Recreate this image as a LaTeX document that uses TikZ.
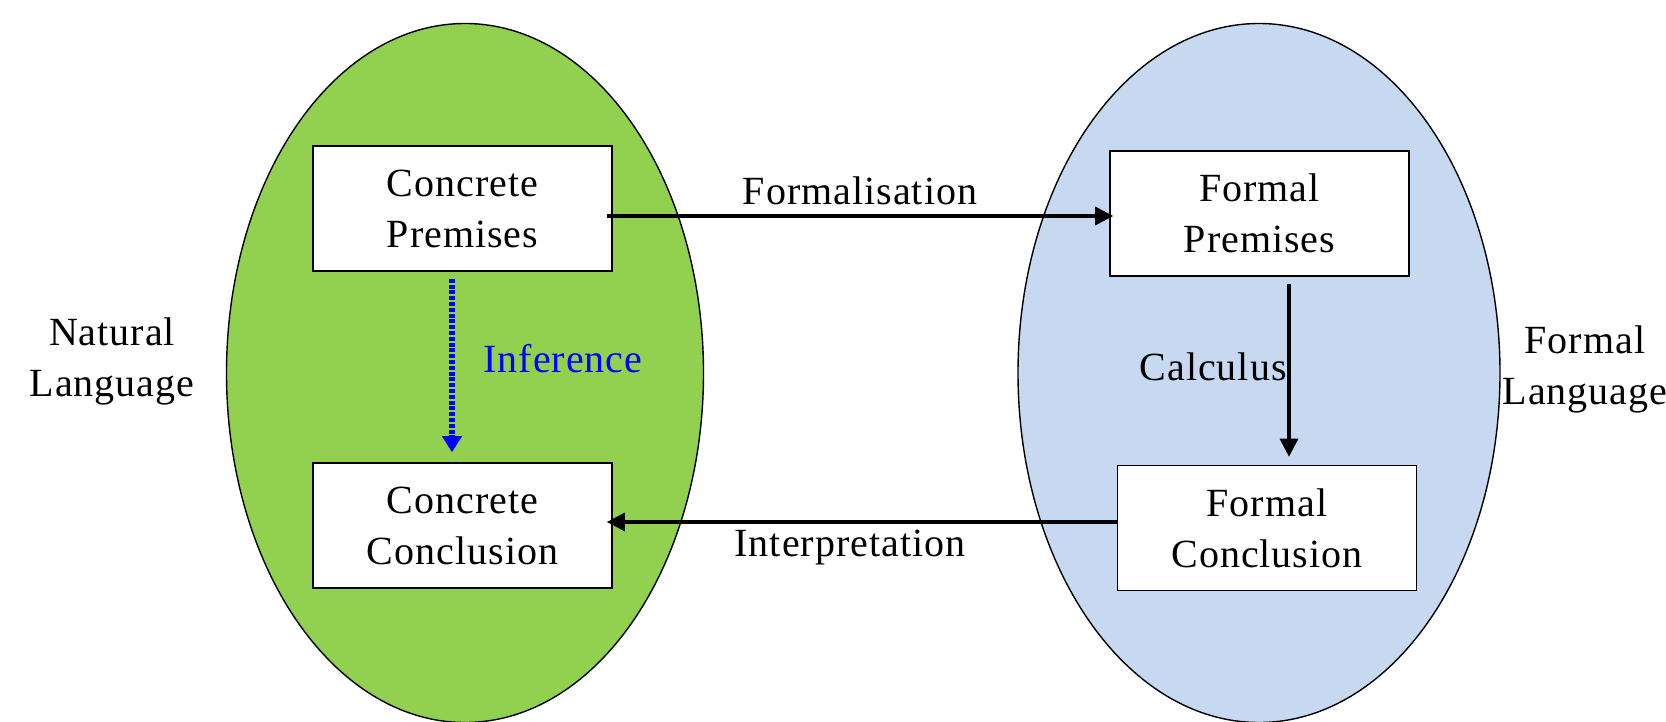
\documentclass[tikz,border=0pt]{standalone}
\usepackage{fontspec}
\setmainfont{Liberation Serif}[LetterSpace=2.5]
\usetikzlibrary{arrows.meta,shapes.geometric}
\definecolor{natgreen}{RGB}{146,208,80}
\definecolor{formblue}{RGB}{198,217,241}
\definecolor{infblue}{RGB}{0,0,255}
\tikzset{
  txt/.style={font=\fontsize{20}{25.5}\selectfont, align=center, inner sep=0pt},
  box/.style={txt, draw=black, fill=white, line width=0.8pt, minimum width=149.5pt, minimum height=62.5pt},
  blob/.style={draw=black, line width=0.7pt},
  conn/.style={line width=1.6pt, -{Triangle[length=9pt,width=9pt]}},
  infconn/.style={infblue, line width=2.7pt, dash pattern=on 2pt off 0.9pt, -{Triangle[length=8pt,width=9.5pt]}}
}
\begin{document}
\begin{tikzpicture}[x=0.5pt,y=-0.5pt]
\useasboundingbox (0,0) rectangle (1666,722);
% ellipses
\draw[blob, fill=natgreen] (465,373) ellipse [x radius=119.25pt, y radius=174.75pt];
\draw[blob, fill=formblue] (1259,373) ellipse [x radius=120.5pt, y radius=174.75pt];
% boxes
\node[box] (cp) at (462.5,208.5) {Concrete\\Premises};
\node[box] (cc) at (462.5,525.5) {Concrete\\Conclusion};
\node[box] (fp) at (1259.5,213.5) {Formal\\Premises};
\node[box] (fc) at (1267,528) {Formal\\Conclusion};
% side labels
\node[txt] (nl) at (112,361) {Natural\\Language};
\node[txt] (fl) at (1585,369) {Formal\\Language};
% connectors
\draw[conn] ([xshift=-3pt]cp.east |- 0,216) -- ([xshift=2pt]fp.west |- 0,216);
\draw[conn] (fc.west |- 0,522) -- ([xshift=-3pt]cc.east |- 0,522);
\draw[conn] (fp.south -| 1289,0) ++(0,7) coordinate (cs) -- ([yshift=4pt]fc.north -| cs);
\draw[infconn] (cp.south -| 452,0) ++(0,7) coordinate (is) -- ([yshift=5pt]cc.north -| is);
% labels
\node[txt] (lform) at (860,191) {Formalisation};
\node[txt] (linterp) at (850,548) {Interpretation};
\node[txt, anchor=east] (lcalc) at (1287,367) {Calculus};
\node[txt, text=infblue] (linf) at (563,359) {Inference};
\end{tikzpicture}
\end{document}
